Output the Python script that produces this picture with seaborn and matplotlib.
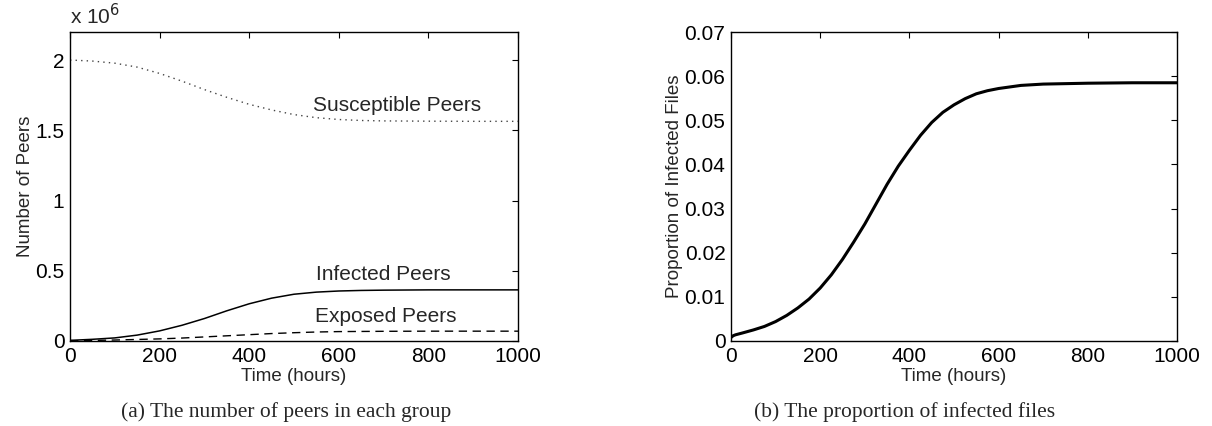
import matplotlib
matplotlib.use("Agg")
import matplotlib.pyplot as plt
from matplotlib.ticker import FuncFormatter
import seaborn as sns
import pandas as pd

# ---- data ----
hours = [0, 10, 50, 100, 150, 200, 250, 300, 350, 400, 450, 500, 550, 600, 650, 700, 800, 900, 1000]
susceptible = [2.000e6, 1.999e6, 1.993e6, 1.978e6, 1.950e6, 1.905e6, 1.850e6, 1.790e6, 1.735e6,
               1.685e6, 1.645e6, 1.612e6, 1.590e6, 1.577e6, 1.570e6, 1.567e6, 1.565e6, 1.564e6, 1.564e6]
infected = [0.005e6, 0.006e6, 0.012e6, 0.022e6, 0.042e6, 0.072e6, 0.112e6, 0.160e6, 0.215e6,
            0.265e6, 0.305e6, 0.333e6, 0.348e6, 0.356e6, 0.360e6, 0.362e6, 0.364e6, 0.364e6, 0.364e6]
exposed = [0.000e6, 0.001e6, 0.004e6, 0.007e6, 0.011e6, 0.015e6, 0.021e6, 0.029e6, 0.037e6,
           0.045e6, 0.053e6, 0.059e6, 0.064e6, 0.067e6, 0.068e6, 0.069e6, 0.070e6, 0.070e6, 0.070e6]

prop_hours = [0, 5, 10, 25, 50, 75, 100, 125, 150, 175, 200, 225, 250, 275, 300, 325, 350, 375,
              400, 425, 450, 475, 500, 525, 550, 575, 600, 650, 700, 750, 800, 900, 1000]
proportion = [0.0008, 0.0012, 0.0014, 0.0018, 0.0025, 0.0033, 0.0044, 0.0058, 0.0075, 0.0095,
              0.0120, 0.0150, 0.0185, 0.0224, 0.0265, 0.0310, 0.0355, 0.0396, 0.0432, 0.0466,
              0.0495, 0.0518, 0.0535, 0.0549, 0.0560, 0.0567, 0.0572, 0.0579, 0.0582, 0.0583,
              0.0584, 0.0585, 0.0585]

peer_ticks = [0, 0.5e6, 1.0e6, 1.5e6, 2.0e6]
x_ticks = [0, 200, 400, 600, 800, 1000]
prop_ticks = [0, 0.01, 0.02, 0.03, 0.04, 0.05, 0.06, 0.07]

sns.set_theme(style="white")
plt.rcParams["font.family"] = ["Liberation Sans", "DejaVu Sans"]

df = pd.DataFrame({"hours": hours, "S": susceptible, "I": infected, "E": exposed})
dfp = pd.DataFrame({"hours": prop_hours, "P": proportion})

fig = plt.figure(figsize=(12.12, 4.26), dpi=100)
ax1 = fig.add_axes([70 / 1212, 85 / 426, 448 / 1212, 309 / 426])
ax2 = fig.add_axes([731 / 1212, 85 / 426, 446 / 1212, 309 / 426])

# left panel
sns.lineplot(data=df, x="hours", y="S", ax=ax1, color="#444444", lw=1.0, linestyle=(0, (1, 3)))
sns.lineplot(data=df, x="hours", y="I", ax=ax1, color="black", lw=1.1)
sns.lineplot(data=df, x="hours", y="E", ax=ax1, color="black", lw=1.0, linestyle=(0, (6, 4)))
ax1.set_xlim(0, 1000)
ax1.set_ylim(0, 2.2e6)
ax1.set_xticks(x_ticks)
ax1.set_yticks(peer_ticks)
ax1.yaxis.set_major_formatter(FuncFormatter(lambda v, p: f"{v / 1e6:g}"))
ax1.set_xlabel("Time (hours)", fontsize=13.5, labelpad=2)
ax1.set_ylabel("Number of Peers", fontsize=13.5, labelpad=1)
ax1.text(0.0, 1.012, r"x 10$^{6}$", transform=ax1.transAxes, fontsize=15, ha="left", va="bottom")
ax1.text(730, 1.61e6, "Susceptible Peers", fontsize=15, ha="center", va="bottom")
ax1.text(700, 0.405e6, "Infected Peers", fontsize=15, ha="center", va="bottom")
ax1.text(705, 0.105e6, "Exposed Peers", fontsize=15, ha="center", va="bottom")

# right panel
sns.lineplot(data=dfp, x="hours", y="P", ax=ax2, color="black", lw=2.2)
ax2.set_xlim(0, 1000)
ax2.set_ylim(0, 0.07)
ax2.set_xticks(x_ticks)
ax2.set_yticks(prop_ticks)
ax2.yaxis.set_major_formatter(FuncFormatter(lambda v, p: f"{v:g}"))
ax2.set_xlabel("Time (hours)", fontsize=13.5, labelpad=2)
ax2.set_ylabel("Proportion of Infected Files", fontsize=13.5, labelpad=1)

for ax in (ax1, ax2):
    for s in ax.spines.values():
        s.set_visible(True)
        s.set_color("black")
        s.set_linewidth(1.0)
    ax.tick_params(direction="in", length=4, width=0.8, top=True, right=True,
                   labelsize=15, pad=4, colors="black")
    ax.set_facecolor("white")

fig.text(286 / 1212, 1 - 412 / 426, "(a) The number of peers in each group",
         fontsize=15.5, ha="center", va="center", family=["Liberation Serif"])
fig.text(905 / 1212, 1 - 412 / 426, "(b) The proportion of infected files",
         fontsize=15.5, ha="center", va="center", family=["Liberation Serif"])

fig.savefig("out.png", dpi=100, facecolor="white")
